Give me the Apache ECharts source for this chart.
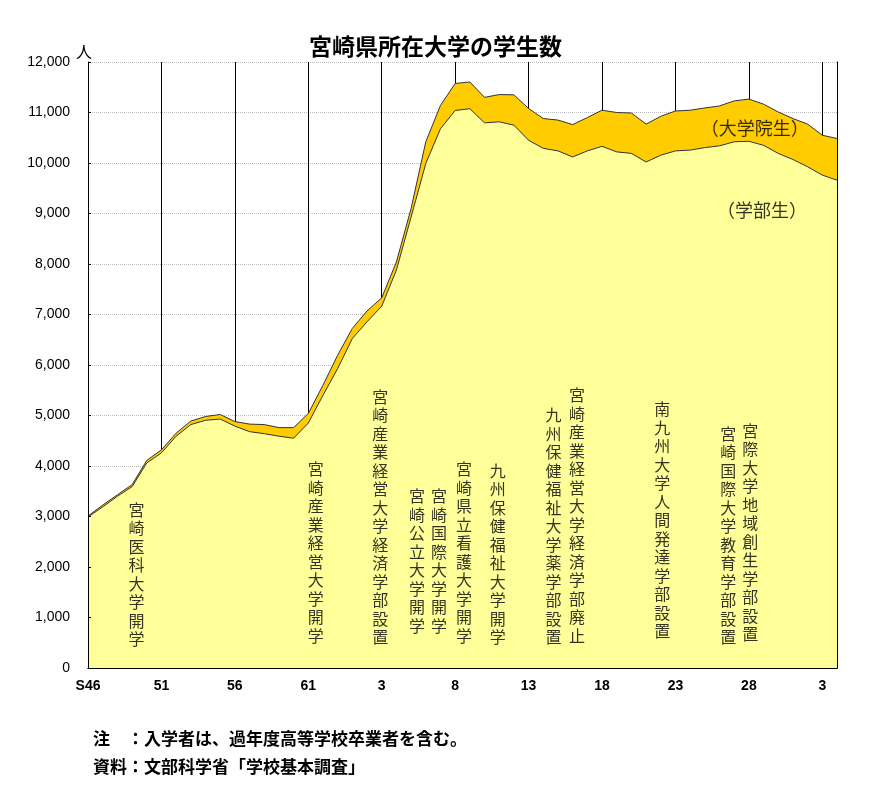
<!DOCTYPE html>
<html>
<head>
<meta charset="utf-8">
<script src="https://cdn.jsdelivr.net/npm/echarts@6/dist/echarts.min.js"></script>
<style>
  html, body { margin: 0; padding: 0; background: #fff; }
  #chart { width: 887px; height: 785px; }
</style>
</head>
<body>
<div id="chart"></div>
<script>
// 年度 S46(1971) 〜 R4(2022)
const years = [
  1971, 1972, 1973, 1974, 1975, 1976, 1977, 1978, 1979, 1980,
  1981, 1982, 1983, 1984, 1985, 1986, 1987, 1988, 1989, 1990,
  1991, 1992, 1993, 1994, 1995, 1996, 1997, 1998, 1999, 2000,
  2001, 2002, 2003, 2004, 2005, 2006, 2007, 2008, 2009, 2010,
  2011, 2012, 2013, 2014, 2015, 2016, 2017, 2018, 2019, 2020,
  2021, 2022
]
const xTickLabels = ['S46', '51', '56', '61', '3', '8', '13', '18', '23', '28', '3']

// 学部生
const undergrad = [
  2990, 3190, 3400, 3590, 4060, 4260, 4590, 4820, 4905, 4930,
  4790, 4680, 4640, 4590, 4550, 4850, 5400, 5930, 6525, 6855,
  7165, 7880, 8930, 9990, 10680, 11040, 11075, 10795, 10815, 10750,
  10450, 10290, 10240, 10120, 10240, 10330, 10220, 10190, 10020, 10155,
  10240, 10255, 10305, 10340, 10420, 10430, 10350, 10190, 10070, 9925,
  9760, 9660
]
// 大学院生
const graduate = [
  20, 35, 30, 40, 50, 60, 60, 70, 75, 90,
  90, 150, 180, 170, 210, 190, 200, 265, 200, 215,
  165, 160, 170, 430, 460, 535, 530, 505, 540, 600,
  630, 590, 610, 640, 660, 715, 780, 800, 750, 770,
  790, 790, 785, 790, 810, 835, 815, 820, 810, 845,
  790, 825
]

// 出来事（縦書き注記）
const eventNames = [
  '宮崎医科大学開学',
  '宮崎産業経営大学開学',
  '宮崎産業経営大学経済学部設置',
  '宮崎公立大学開学',
  '宮崎国際大学開学',
  '宮崎県立看護大学開学',
  '九州保健福祉大学開学',
  '九州保健福祉大学薬学部設置',
  '宮崎産業経営大学経済学部廃止',
  '南九州大学人間発達学部設置',
  '宮崎国際大学教育学部設置',
  '宮際大学地域創生学部設置'
]
// 注記の下端（x: 1971年からの年数, y: 人数）
const eventAnchors = [
  [3.3, 392], [15.5, 457], [19.9, 426], [22.4, 656], [23.9, 656], [25.6, 457],
  [27.9, 426], [31.7, 426], [33.3, 457], [39.1, 545], [43.6, 426], [45.1, 491]
]
// 系列名ラベル
const seriesLabels = ['（学部生）', '（大学院生）']
const seriesLabelAnchors = [[45.9, 9060], [45.4, 10690]]

const cjk = '"Noto Sans CJK JP", "Noto Sans", sans-serif'
const latin = '"Liberation Sans", Arial, sans-serif'

const vertical = s => s.split('').join('\n')

const chart = echarts.init(document.getElementById('chart'))
const option = {
  backgroundColor: '#fff',
  animation: false,
  title: {
    text: '宮崎県所在大学の学生数',
    left: 304,
    top: 30,
    textStyle: { fontSize: 23, fontWeight: 'bold', color: '#000', fontFamily: cjk }
  },
  grid: { left: 88, right: 50, top: 62, bottom: 117 },
  xAxis: [
    {
      type: 'category', data: years, boundaryGap: false, position: 'bottom', z: 5,
      axisLine: { show: true, lineStyle: { color: '#000', width: 1 } },
      axisTick: { show: false },
      splitLine: { show: false },
      axisLabel: {
        interval: 4,
        color: '#000', fontSize: 14, fontWeight: 'bold', fontFamily: latin, margin: 11,
        formatter: (v, i) => (i % 5 === 0 ? xTickLabels[i / 5] : '')
      }
    },
    {
      type: 'value', min: 0, max: years.length - 1, interval: 5, position: 'top',
      axisLine: { show: true, lineStyle: { color: '#000', width: 1 } },
      axisTick: { show: false },
      axisLabel: { show: false },
      splitLine: { show: true, lineStyle: { color: '#000', width: 1 } }
    }
  ],
  yAxis: [
    {
      type: 'value', min: 0, max: 12000, interval: 1000, position: 'left', z: 5,
      name: '人', nameLocation: 'end', nameGap: 2,
      nameTextStyle: { color: '#000', fontSize: 16, fontFamily: cjk, padding: [0, 8, 0, 0] },
      axisLine: { show: true, lineStyle: { color: '#000', width: 1 } },
      axisTick: { show: true, inside: true, length: 3, lineStyle: { color: '#000' } },
      splitLine: { show: false },
      axisLabel: {
        color: '#000', fontSize: 14, fontFamily: latin, margin: 18,
        formatter: v => v.toLocaleString('en-US')
      }
    },
    {
      type: 'value', min: 0, max: 12000, interval: 1000, position: 'left',
      axisLine: { show: false }, axisTick: { show: false }, axisLabel: { show: false },
      splitLine: { show: true, lineStyle: { color: '#bbb', width: 1, type: [1, 1] } }
    },
    {
      type: 'value', min: 0, max: 12000, interval: 1000, position: 'right', z: 5,
      axisLine: { show: true, lineStyle: { color: '#000', width: 1 } },
      axisTick: { show: false }, axisLabel: { show: false }, splitLine: { show: false }
    }
  ],
  series: [
    {
      name: '学部生',
      type: 'line',
      stack: 'total',
      symbol: 'none',
      xAxisIndex: 0,
      yAxisIndex: 0,
      lineStyle: { color: '#333', width: 1 },
      areaStyle: { color: '#FFFF99', opacity: 1 },
      data: undergrad
    },
    {
      name: '大学院生',
      type: 'line',
      stack: 'total',
      symbol: 'none',
      xAxisIndex: 0,
      yAxisIndex: 0,
      lineStyle: { color: '#333', width: 1 },
      areaStyle: { color: '#FFCC00', opacity: 1 },
      data: graduate
    },
    {
      name: '注記',
      type: 'scatter',
      xAxisIndex: 1,
      yAxisIndex: 0,
      symbolSize: 0,
      silent: true,
      z: 6,
      label: {
        show: true, position: 'top', distance: 0,
        color: '#000', fontSize: 16, lineHeight: 18.5, fontFamily: cjk,
        formatter: p => vertical(p.name)
      },
      data: eventNames.map((name, k) => ({ name, value: eventAnchors[k] }))
    },
    {
      name: '系列名',
      type: 'scatter',
      xAxisIndex: 1,
      yAxisIndex: 0,
      symbolSize: 0,
      silent: true,
      z: 6,
      label: {
        show: true, position: 'inside',
        color: '#000', fontSize: 18, fontFamily: cjk,
        formatter: p => p.name
      },
      data: seriesLabels.map((name, k) => ({ name, value: seriesLabelAnchors[k] }))
    }
  ],
  graphic: [
    {
      type: 'text', left: 93, top: 730,
      style: { text: '注　：入学者は、過年度高等学校卒業者を含む。', fill: '#000', font: 'bold 17px ' + cjk }
    },
    {
      type: 'text', left: 93, top: 758,
      style: { text: '資料：文部科学省「学校基本調査」', fill: '#000', font: 'bold 17px ' + cjk }
    }
  ]
}
chart.setOption(option)
window.addEventListener('resize', function () {
  chart.resize()
})
</script>
</body>
</html>
